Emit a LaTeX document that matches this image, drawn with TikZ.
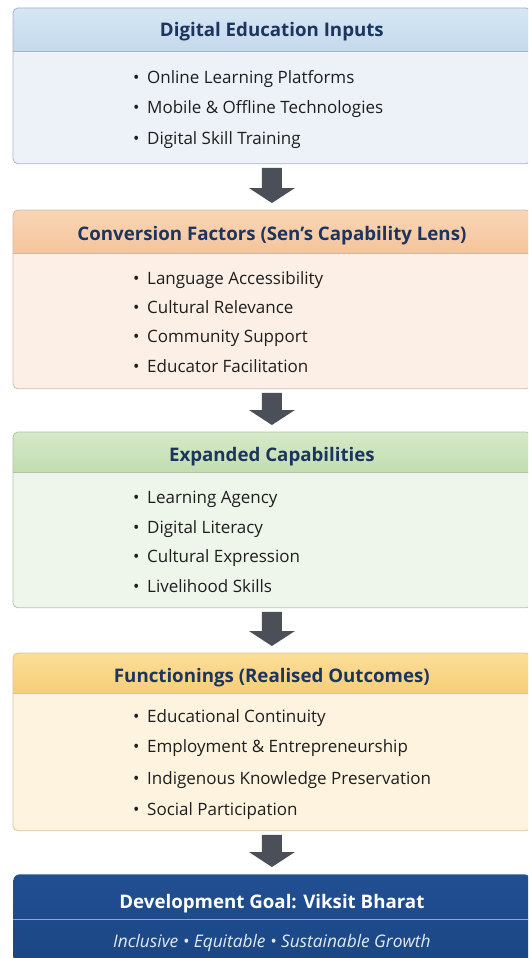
\documentclass[tikz,border=0pt]{standalone}
\usepackage{fontspec}
\setmainfont{Open Sans}
\usetikzlibrary{calc}
\definecolor{hdtext}{HTML}{1C355E}
\definecolor{bodytext}{HTML}{1E1E1E}
\definecolor{arrowgray}{HTML}{4A4F58}
\definecolor{aHeadTop}{HTML}{D6E6F4}\definecolor{aHeadBot}{HTML}{C4D9EC}
\definecolor{aBody}{HTML}{EDF2F9}\definecolor{aLine}{HTML}{A7B3C1}
\definecolor{bHeadTop}{HTML}{F9D6B6}\definecolor{bHeadBot}{HTML}{F5C49B}
\definecolor{bBody}{HTML}{FCEFE5}\definecolor{bLine}{HTML}{D5B9A4}
\definecolor{cHeadTop}{HTML}{D5EAC8}\definecolor{cHeadBot}{HTML}{C2DDB1}
\definecolor{cBody}{HTML}{EEF5EA}\definecolor{cLine}{HTML}{AFC3A6}
\definecolor{dHeadTop}{HTML}{FBDE98}\definecolor{dHeadBot}{HTML}{F7CE78}
\definecolor{dBody}{HTML}{FDF3DF}\definecolor{dLine}{HTML}{D9C39B}
\definecolor{eTop}{HTML}{214F92}\definecolor{eBot}{HTML}{1A4583}
\definecolor{eLine}{HTML}{86A8DA}\definecolor{eSub}{HTML}{E3EAF4}
\tikzset{
  stagebox/.style={rectangle, rounded corners=5pt, minimum width=517pt, anchor=north west, inner sep=0pt, line width=0.8pt},
  headtext/.style={font=\fontsize{18.7}{22}\selectfont\bfseries, text=hdtext, anchor=base, inner sep=0pt},
  itemtext/.style={font=\fontsize{17}{20}\selectfont, text=bodytext, anchor=base west, inner sep=0pt},
  flowarrow/.style={fill=arrowgray, draw=none}
}
% #1 name, #2 head top, #3 head bottom, #4 line, #5 header height
\newcommand\drawhead[5]{%
  \begin{scope}
    \clip[rounded corners=5pt] (#1.north west) rectangle (#1.south east);
    \shade[top color=#2, bottom color=#3] (#1.north west) rectangle ($(#1.north east)+(0,#5)$);
  \end{scope}
  \draw[#4, line width=0.8pt] ($(#1.north west)+(0,#5)$) -- ($(#1.north east)+(0,#5)$);
  \draw[#4, line width=0.8pt, rounded corners=5pt] (#1.north west) rectangle (#1.south east);
}
\newcommand\bulletitem[3]{\node[itemtext] (#1) at (133,#2) {\makebox[14pt][l]{•}#3};}
\newcommand\drawflow[3]{% name, from box, to box
  \coordinate (#1s) at ($(#2.south)+(0,4)$);
  \coordinate (#1e) at ($(#3.north)+(0,-7)$);
  \fill[flowarrow] ($(#1s)+(-10,0)$) -- ($(#1s)+(10,0)$) -- ($(#1e)+(10,-15)$) -- ($(#1e)+(23,-15)$) -- (#1e) -- ($(#1e)+(-23,-15)$) -- ($(#1e)+(-10,-15)$) -- cycle;
}
\begin{document}
\begin{tikzpicture}[x=1pt,y=-1pt]
\useasboundingbox (0,0) rectangle (528,958);
\clip (0,0) rectangle (528,958);
\fill[white] (0,0) rectangle (528,958);

% Box 1
\node[stagebox, fill=aBody, minimum height=155pt] (b1) at (13,8) {};
\drawhead{b1}{aHeadTop}{aHeadBot}{aLine}{43}
\node[headtext] (h1) at ($(b1.north)+(0,29)$) {Digital Education Inputs};
\bulletitem{i11}{83}{Online Learning Platforms}
\bulletitem{i12}{113}{Mobile \& Offline Technologies}
\bulletitem{i13}{144}{Digital Skill Training}

% Box 2
\node[stagebox, fill=bBody, minimum height=178pt] (b2) at (13,210) {};
\drawhead{b2}{bHeadTop}{bHeadBot}{bLine}{43}
\node[headtext] (h2) at ($(b2.north)+(0,30)$) {Conversion Factors (Sen’s Capability Lens)};
\bulletitem{i21}{284}{Language Accessibility}
\bulletitem{i22}{313}{Cultural Relevance}
\bulletitem{i23}{342}{Community Support}
\bulletitem{i24}{372}{Educator Facilitation}

% Box 3
\node[stagebox, fill=cBody, minimum height=175pt] (b3) at (13,432) {};
\drawhead{b3}{cHeadTop}{cHeadBot}{cLine}{40}
\node[headtext] (h3) at ($(b3.north)+(0,29)$) {Expanded Capabilities};
\bulletitem{i31}{503}{Learning Agency}
\bulletitem{i32}{533}{Digital Literacy}
\bulletitem{i33}{562}{Cultural Expression}
\bulletitem{i34}{592}{Livelihood Skills}

% Box 4
\node[stagebox, fill=dBody, minimum height=177pt] (b4) at (13,653) {};
\drawhead{b4}{dHeadTop}{dHeadBot}{dLine}{40}
\node[headtext] (h4) at ($(b4.north)+(0,29)$) {Functionings (Realised Outcomes)};
\bulletitem{i41}{722}{Educational Continuity}
\bulletitem{i42}{752}{Employment \& Entrepreneurship}
\bulletitem{i43}{784}{Indigenous Knowledge Preservation}
\bulletitem{i44}{815}{Social Participation}

% Box 5
\node[stagebox, rounded corners=6pt, top color=eTop, bottom color=eBot, minimum height=100pt] (b5) at (13,874) {};
\draw[eLine, line width=1pt] ($(b5.north west)+(0,45)$) -- ($(b5.north east)+(0,45)$);
\node[headtext, text=white] (h5) at ($(b5.north)+(0,34)$) {Development Goal: Viksit Bharat};
\node[anchor=base, inner sep=0pt, text=eSub, font=\fontsize{17.3}{20}\selectfont\itshape] (s5) at ($(b5.north)+(0,73)$) {Inclusive • Equitable • Sustainable Growth};

% Arrows
\drawflow{a1}{b1}{b2}
\drawflow{a2}{b2}{b3}
\drawflow{a3}{b3}{b4}
\drawflow{a4}{b4}{b5}
\end{tikzpicture}
\end{document}
